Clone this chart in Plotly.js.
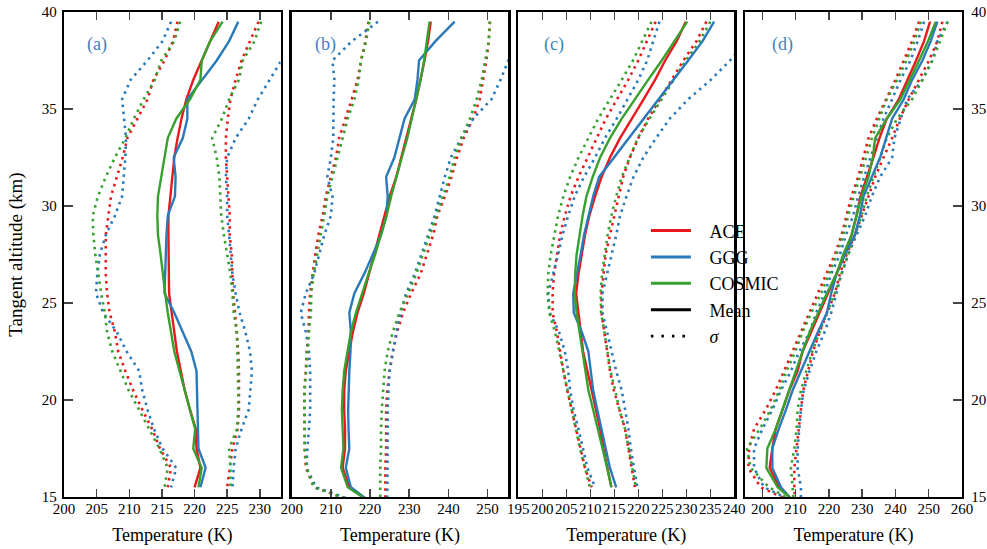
<!DOCTYPE html>
<html>
<head>
<meta charset="utf-8">
<script src="https://cdn.plot.ly/plotly-3.0.1.min.js"></script>
<style>html,body{margin:0;padding:0;background:#fff;}#chart{width:987px;height:549px;}</style>
</head>
<body>
<div id="chart"></div>
<script>
// Altitudes (km), top to bottom
const altAC = [39.5,38.5,37.5,36.5,35.5,34.5,33.5,32.5,31.5,30.5,29.5,28.5,27.5,26.5,25.5,24.5,23.5,22.5,21.5,20.5,19.5,18.5,17.5,16.5,15.5];
const altBD = [39.5,38.5,37.5,36.5,35.5,34.5,33.5,32.5,31.5,30.5,29.5,28.5,27.5,26.5,25.5,24.5,23.5,22.5,21.5,20.5,19.5,18.5,17.5,16.5,15.5,14.5];

// Panel (a)
const aceA    = [223.7,222.4,221.1,219.8,218.75,218.0,217.4,216.9,216.6,216.25,216.0,216.0,216.0,216.0,216.1,216.5,216.9,217.3,217.9,218.5,219.3,220.2,220.3,220.9,220.0];
const gggA    = [226.7,225.3,223.4,221.1,218.9,218.9,218.2,216.8,217.1,217.0,215.9,215.7,215.6,215.5,215.4,216.9,218.2,219.5,220.3,220.4,220.5,220.6,220.6,221.7,220.9];
const cosA    = [224.3,222.4,221.1,220.9,219.3,217.2,215.9,215.4,214.8,214.4,214.3,214.4,214.8,215.1,215.5,215.9,216.4,216.9,217.7,218.5,219.3,220.1,219.8,221.1,220.6];
const aceLoA  = [217.4,216.7,215.4,213.7,212.8,211.2,209.7,209.0,208.1,207.2,206.8,206.4,206.4,206.4,206.6,207.0,207.8,208.3,209.4,210.6,212.0,213.5,214.7,216.4,215.9];
const gggLoA  = [216.4,215.1,212.8,210.2,208.9,209.2,209.5,209.4,209.2,208.9,207.8,206.4,205.5,205.1,204.9,206.0,208.1,209.6,211.5,212.0,212.8,213.8,215.1,217.2,216.4];
const cosLoA  = [217.8,216.9,214.9,213.9,212.2,210.7,209.4,207.8,206.4,205.2,204.4,204.5,204.8,205.2,205.7,206.25,206.6,207.4,208.6,209.9,211.5,213.0,214.6,215.9,215.4];
const aceHiA  = [229.8,228.5,227.2,226.3,225.5,225.1,224.8,224.8,225.0,225.2,225.4,225.4,225.7,225.8,225.9,226.2,226.5,226.7,226.8,226.8,226.8,226.6,225.8,225.4,225.0];
const gggHiA  = [235.0,234.1,233.3,231.5,229.7,228.3,226.3,225.0,224.8,225.0,225.0,225.3,225.5,225.8,226.3,226.9,227.8,228.5,228.8,228.6,228.3,227.2,226.3,226.0,225.8];
const cosHiA  = [230.2,229.2,227.4,226.8,225.3,224.2,222.7,223.4,223.8,224.0,224.1,224.5,225.0,225.5,225.8,226.0,226.5,226.6,226.7,226.7,226.7,226.5,225.3,225.5,225.5];

// Panel (b)
const aceB    = [235.5,234.8,233.9,232.9,231.8,230.5,229.2,227.9,226.7,225.0,223.7,222.4,221.1,219.8,218.4,216.8,215.6,214.7,213.8,213.4,213.4,213.6,213.6,213.0,214.7,221.5];
const gggB    = [241.6,236.7,232.5,232.1,231.4,228.8,227.5,226.2,224.1,224.5,224.2,222.8,220.7,218.5,216.0,214.7,215.1,215.0,214.7,214.5,214.4,214.5,214.7,213.8,215.1,221.7];
const cosB    = [235.2,234.5,233.8,232.9,231.8,230.7,229.5,228.1,226.7,225.4,224.2,222.8,221.3,219.6,217.9,216.4,215.1,214.3,213.4,213.0,212.8,213.0,213.2,212.6,214.3,221.9];
const aceLoB  = [219.6,218.8,217.7,216.8,215.3,213.6,212.1,211.3,210.0,208.7,207.9,206.8,206.0,205.3,204.7,204.4,204.3,203.8,203.6,203.2,203.2,203.3,203.3,203.6,205.7,219.5];
const gggLoB  = [222.0,215.4,210.4,210.9,210.7,210.6,210.6,210.0,209.1,210.4,210.0,208.3,207.0,205.7,203.6,202.3,203.6,204.4,204.7,204.7,204.7,204.4,204.0,203.8,206.2,220.0];
const cosLoB  = [219.8,219.0,217.7,217.1,216.0,214.3,213.0,211.7,210.4,209.1,208.3,207.4,206.4,205.6,205.0,204.9,204.4,204.0,203.6,203.3,203.3,203.3,203.3,203.8,205.7,219.5];
const aceHiB  = [250.6,250.3,249.7,248.9,248.0,246.3,243.9,242.2,240.8,239.1,237.2,236.1,234.4,232.9,230.5,228.4,226.9,225.8,225.0,224.4,224.1,224.1,224.1,223.9,223.9,223.9];
const gggHiB  = [260.0,258.0,255.3,253.3,251.0,246.3,243.3,240.6,239.1,237.8,236.5,234.8,233.1,231.4,229.2,227.8,226.7,225.8,225.0,224.7,224.5,224.5,224.5,224.4,224.4,224.4];
const cosHiB  = [250.6,250.3,249.4,248.5,247.2,245.5,243.3,241.6,240.3,238.6,236.9,235.4,233.5,231.8,229.7,227.5,225.8,224.5,223.7,223.3,223.0,222.8,222.8,222.6,222.6,222.6];

// Panel (c)
const aceC    = [229.9,228.0,225.6,223.5,221.1,218.6,216.2,214.1,212.35,211.0,209.8,208.9,208.2,207.55,207.05,207.55,208.05,208.5,209.4,210.3,211.2,212.05,212.75,213.5,214.4];
const gggC    = [235.8,233.4,230.4,227.3,224.2,221.1,217.9,214.8,211.85,210.6,209.7,208.7,208.0,207.25,206.45,206.55,208.25,209.6,210.1,210.6,211.45,212.35,213.2,214.1,215.4];
const cosC    = [230.2,227.6,224.9,222.05,219.3,216.55,214.1,212.05,210.5,209.2,208.4,207.75,207.15,206.85,206.75,207.15,207.75,208.25,208.9,209.6,210.6,211.65,212.55,213.5,214.4];
const aceLoC  = [223.6,221.85,220.0,217.9,215.5,213.25,211.35,209.4,207.55,205.9,204.7,203.7,203.05,202.45,202.15,202.15,203.05,203.7,204.4,205.2,206.1,207.15,208.05,208.9,210.3];
const gggLoC  = [224.4,223.1,221.85,220.0,217.75,215.5,213.05,211.0,208.7,206.75,205.4,204.2,203.3,202.25,201.25,201.55,203.5,204.7,205.4,205.8,206.5,207.55,208.4,209.4,211.0];
const cosLoC  = [222.75,220.9,218.9,216.55,214.1,211.65,209.6,207.55,205.8,204.4,203.3,202.45,201.75,201.25,201.1,201.45,202.65,203.55,204.4,205.2,206.1,207.05,207.85,208.9,209.9];
const aceHiC  = [234.2,232.15,229.4,226.95,224.5,222.05,220.0,218.25,216.85,215.9,214.9,214.1,213.2,212.75,212.35,212.35,212.95,213.45,214.1,214.9,216.1,217.25,217.95,218.6,219.3];
const gggHiC  = [246.0,242.5,239.1,235.1,230.4,226.55,223.7,221.05,219.0,217.55,216.2,215.4,214.4,213.45,212.55,212.55,213.45,214.4,215.4,216.55,217.25,217.95,218.45,219.1,219.8];
const cosHiC  = [235.0,232.8,229.9,227.35,224.9,222.35,219.9,218.15,216.55,215.4,214.4,213.6,212.95,212.45,212.15,212.25,212.95,213.5,214.2,215.2,216.05,217.25,217.95,218.8,219.5];

// Panel (d)
const aceD    = [250.4,248.6,246.2,243.5,241.0,237.4,235.2,233.4,231.4,229.5,228.3,226.8,224.8,222.3,219.7,217.2,214.7,212.1,210.6,208.1,206.1,204.0,203.0,202.2,205.1,211.1];
const gggD    = [252.6,250.6,248.1,245.0,242.5,239.0,237.2,235.4,232.9,230.4,229.3,227.8,224.8,222.3,220.7,219.4,216.7,214.2,211.6,209.1,207.1,204.9,203.0,203.0,205.6,210.6];
const cosD    = [252.1,249.8,247.1,244.3,241.5,237.4,233.9,233.2,231.9,229.8,228.3,226.8,224.3,222.3,219.4,216.7,214.2,212.1,210.1,207.9,206.0,204.0,201.5,201.2,204.6,211.6];
const aceLoD  = [247.1,245.0,242.5,240.0,237.2,234.4,231.9,230.4,228.8,226.8,225.3,223.8,221.8,219.2,216.7,214.2,211.6,209.1,206.6,204.0,201.0,197.5,196.0,195.8,199.5,212.0];
const gggLoD  = [248.6,246.7,244.5,241.5,239.0,236.4,234.4,232.4,230.6,228.8,227.3,225.1,223.3,220.7,218.7,216.2,214.2,211.1,208.6,205.6,203.0,200.0,197.5,197.5,200.5,212.5];
const cosLoD  = [247.6,245.7,243.3,240.5,237.4,235.2,232.9,231.2,229.3,227.5,225.8,224.3,222.3,220.0,217.7,214.7,212.1,209.9,207.3,205.1,202.5,199.2,195.4,196.5,202.0,212.0];
const aceHiD  = [254.1,252.6,250.1,247.1,244.0,241.3,239.0,236.4,233.9,231.9,229.8,227.8,225.3,223.3,221.8,219.4,217.2,215.2,213.7,212.3,211.6,210.9,210.1,209.6,209.6,210.0];
const gggHiD  = [255.7,252.6,251.1,248.1,243.5,241.5,239.7,239.0,235.4,232.9,230.9,228.3,225.8,223.8,222.3,220.7,218.7,216.2,214.2,212.4,211.6,211.1,210.6,210.6,211.6,211.6];
const cosHiD  = [255.7,253.4,251.1,248.1,245.0,240.5,237.4,235.4,233.4,231.4,229.8,227.8,225.8,223.8,221.8,219.4,217.2,215.0,213.2,211.6,210.6,210.3,209.6,208.6,209.1,209.5];

const seriesNames = ['ACE','GGG','COSMIC'];
const panelLabels = ['(a)','(b)','(c)','(d)'];

const COL = {ACE:'#e8191c', GGG:'#2a79b8', COSMIC:'#37a02e'};
const DOT = '2.5px,4.5px';

const panels = [
  {alt: altAC, ax: '', mean:[aceA,gggA,cosA], lo:[aceLoA,gggLoA,cosLoA], hi:[aceHiA,gggHiA,cosHiA]},
  {alt: altBD, ax: '2', mean:[aceB,gggB,cosB], lo:[aceLoB,gggLoB,cosLoB], hi:[aceHiB,gggHiB,cosHiB]},
  {alt: altAC, ax: '3', mean:[aceC,gggC,cosC], lo:[aceLoC,gggLoC,cosLoC], hi:[aceHiC,gggHiC,cosHiC]},
  {alt: altBD, ax: '4', mean:[aceD,gggD,cosD], lo:[aceLoD,gggLoD,cosLoD], hi:[aceHiD,gggHiD,cosHiD]}
];

const traces = [];
panels.forEach(p => {
  seriesNames.forEach((s, i) => {
    [p.lo[i], p.hi[i]].forEach(arr => {
      traces.push({x: arr, y: p.alt, xaxis: 'x'+p.ax, yaxis: 'y'+p.ax, mode: 'lines',
        line: {color: COL[s], width: 2.6, dash: DOT}, showlegend: false, hoverinfo: 'skip'});
    });
  });
  seriesNames.forEach((s, i) => {
    traces.push({x: p.mean[i], y: p.alt, xaxis: 'x'+p.ax, yaxis: 'y'+p.ax, mode: 'lines',
      line: {color: COL[s], width: 2.4}, showlegend: false, hoverinfo: 'skip'});
  });
});
// legend entries (non-breaking spaces give the gap between sample line and text)
const PAD = '\u00a0\u00a0\u00a0';
seriesNames.forEach(s => traces.push({x:[null], y:[null], mode:'lines', name: PAD + s, line:{color: COL[s], width: 3}, xaxis:'x3', yaxis:'y3'}));
traces.push({x:[null], y:[null], mode:'lines', name: PAD + 'Mean', line:{color:'#000', width:3}, xaxis:'x3', yaxis:'y3'});
traces.push({x:[null], y:[null], mode:'lines', name: PAD + '<i>σ</i>', line:{color:'#000', width:2.6, dash:'2.5px,8px'}, xaxis:'x3', yaxis:'y3'});

const FONT = 'Liberation Serif';
function xax(domain, range, dtick) {
  return {domain: domain, range: range, dtick: dtick, tick0: 0, ticks: 'inside', ticklen: 8, tickwidth: 1.5,
    showline: true, linewidth: 2.3, linecolor: '#000', mirror: 'ticks', showgrid: false, zeroline: false,
    tickangle: 0, ticklabelstandoff: -3, tickfont: {size: 15, color: '#000', family: FONT},
    title: {text: 'Temperature (K)', font: {size: 18, color: '#000', family: FONT}, standoff: 12},
    fixedrange: true};
}
function yax(anchor, opts) {
  return Object.assign({anchor: anchor, range: [15, 40], dtick: 5, showline: true, linewidth: 2.3, linecolor: '#000',
    mirror: true, showgrid: false, zeroline: false, ticks: '', showticklabels: false,
    tickfont: {size: 15, color: '#000', family: FONT}}, opts || {});
}

const layout = {
  width: 987, height: 549,
  margin: {l: 64, r: 25, t: 12, b: 52},
  paper_bgcolor: '#fff', plot_bgcolor: '#fff',
  font: {family: FONT, color: '#000'},
  showlegend: true,
  legend: {x: 0.648, y: 0.587, xanchor: 'left', yanchor: 'top', bgcolor: 'rgba(0,0,0,0)',
    font: {size: 18, family: FONT, color: '#000'}, itemwidth: 40},
  xaxis: xax([0, 0.2413], [200, 233.2], 5),
  xaxis2: xax([0.2536, 0.4948], [200, 255.3], 10),
  xaxis3: xax([0.5059, 0.7464], [195, 240], 5),
  xaxis4: xax([0.7584, 1], [194.8, 260], 10),
  yaxis: yax('x', {ticks: 'inside', ticklen: 9, tickwidth: 1.5, showticklabels: true, ticklabelstandoff: 2,
    title: {text: 'Tangent altitude (km)', font: {size: 19, family: FONT, color: '#000'}, standoff: 14}}),
  yaxis2: yax('x2'),
  yaxis3: yax('x3'),
  yaxis4: yax('x4', {side: 'right', ticks: 'inside', ticklen: 9, tickwidth: 1.5, showticklabels: true, ticklabelstandoff: 4}),
  annotations: panelLabels.map((t, i) => ({
    text: t, xref: (i === 0 ? 'x' : 'x' + (i + 1)) + ' domain', yref: 'paper',
    x: [0.152, 0.154, 0.165, 0.171][i], y: 0.932, showarrow: false,
    font: {size: 18, color: '#3d82c0', family: FONT}, xanchor: 'center', yanchor: 'middle'
  }))
};

Plotly.newPlot('chart', traces, layout, {staticPlot: true, displayModeBar: false});
</script>
</body>
</html>
